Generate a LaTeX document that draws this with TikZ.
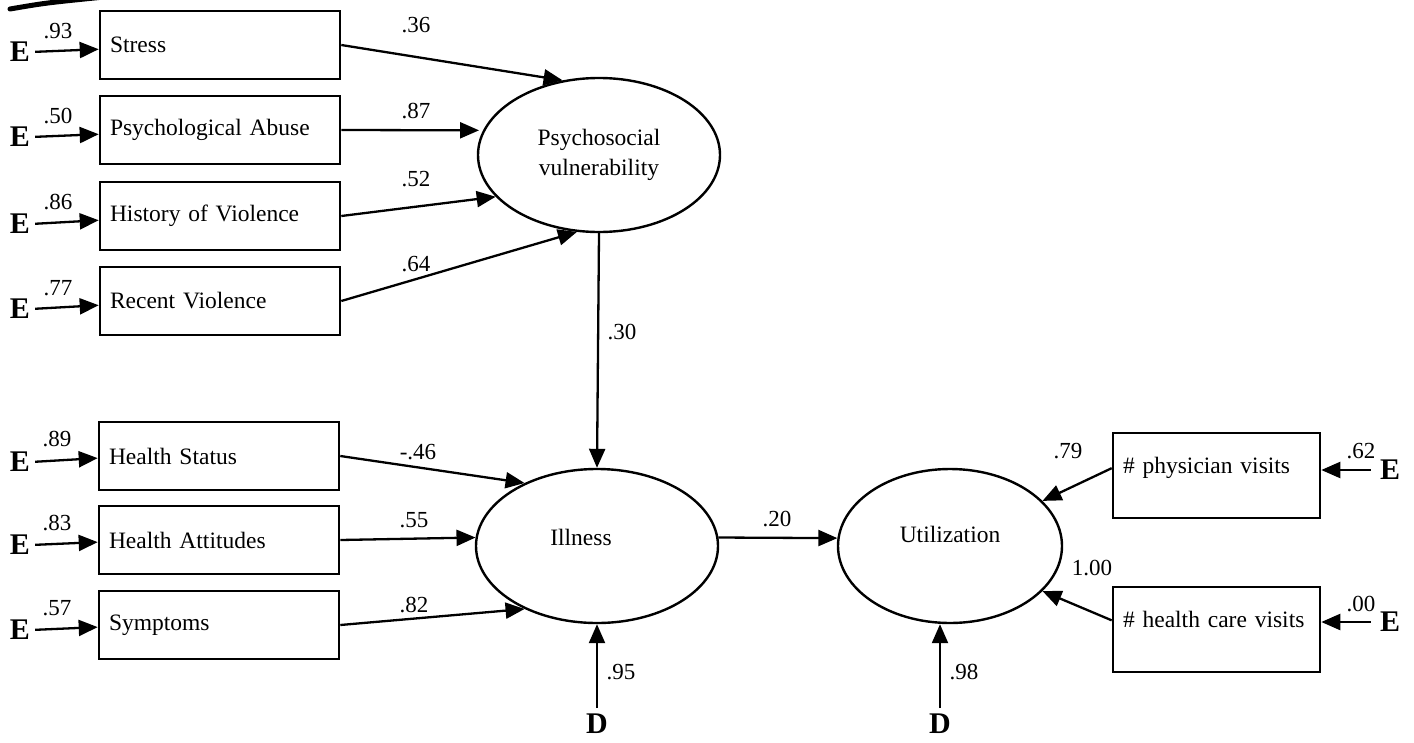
\documentclass[tikz,border=0pt]{standalone}
\usepackage{fontspec}
\setmainfont{Liberation Serif}
\usetikzlibrary{arrows.meta,shapes.geometric}
\begin{document}
\begin{tikzpicture}[x=1pt,y=-1pt,
  line width=2.3pt,
  every node/.style={font=\fontsize{23.5}{30}\selectfont},
  arr/.style={-{Triangle[length=19pt,width=16pt]}, line width=2.3pt},
  obs/.style={draw, rectangle, line width=2.6pt, minimum height=68pt,
    text width=220pt, inner xsep=10pt, align=left},
  robs/.style={draw, rectangle, line width=2.6pt, minimum height=85pt,
    text width=187pt, inner xsep=10pt, align=left, text depth=20pt},
  lat/.style={draw, ellipse, line width=2.4pt, minimum height=154pt,
    inner sep=0pt, align=center},
  err/.style={font=\fontsize{30}{30}\selectfont\bfseries, inner sep=0pt},
  coef/.style={inner sep=0pt, font=\fontsize{23}{23}\selectfont},
]
\useasboundingbox (0,0) rectangle (1414,742);

% stray printer's mark in the top left corner
\draw[line width=5pt, line cap=round] (10,9) .. controls (45,3) .. (104,-3);

% indicators of the psychosocial factor
\node[obs] (stress)  at (220,45)  {Stress};
\node[obs] (abuse)   at (220,130) {Psychological Abuse};
\node[obs] (history) at (220,216) {History of Violence};
\node[obs] (recent)  at (220,301) {Recent Violence};

% indicators of illness
\node[obs] (hstatus) at (219,456) {Health Status};
\node[obs] (hatt)    at (219,540) {Health Attitudes};
\node[obs] (symp)    at (219,625) {Symptoms};

% indicators of utilization
\node[robs] (phys) at (1216.5,475.5) {\# physician visits};
\node[robs] (hcare) at (1216.5,629.5) {\# health care visits};

% latent variables
\node[lat, minimum width=242pt] (psy) at (599,155) {Psychosocial\\vulnerability};
\node[lat, minimum width=242pt, text depth=17pt] (ill) at (597,546) {Illness\hspace*{32pt}};
\node[lat, minimum width=224pt, text depth=24pt] (util) at (950,546) {Utilization};

% error terms
\node[err] (e1) at (20,52)  {E};
\node[err] (e2) at (20,137) {E};
\node[err] (e3) at (20,224) {E};
\node[err] (e4) at (20,309) {E};
\node[err] (e5) at (20,462) {E};
\node[err] (e6) at (20,545) {E};
\node[err] (e7) at (20,630) {E};
\node[err] (e8) at (1390,470) {E};
\node[err] (e9) at (1390,622) {E};

% disturbances
\node[err] (d1) at (597,724) {D};
\node[err] (d2) at (940,724) {D};

% error paths
\draw[arr, shorten <=4pt] (e1.east) -- (stress.182);
\draw[arr, shorten <=4pt] (e2.east) -- (abuse.182);
\draw[arr, shorten <=4pt] (e3.east) -- (history.182);
\draw[arr, shorten <=4pt] (e4.east) -- (recent.182);
\draw[arr, shorten <=4pt] (e5.east) -- (hstatus.181);
\draw[arr, shorten <=4pt] (e6.east) -- (hatt.181);
\draw[arr, shorten <=4pt] (e7.east) -- (symp.181);
\draw[arr, shorten <=8pt] (e8.west) -- (e8.west -| phys.east);
\draw[arr, shorten <=8pt] (e9.west) -- (e9.west -| hcare.east);
\draw[arr, shorten <=5pt] (d1.north) -- (ill.south);
\draw[arr, shorten <=5pt] (d2.north) -- (d2.north |- util.south);

\node[coef] (le1) at (58,31)  {.93};
\node[coef] (le2) at (58,116) {.50};
\node[coef] (le3) at (58,202) {.86};
\node[coef] (le4) at (58,288) {.77};
\node[coef] (le5) at (57,439) {.89};
\node[coef] (le6) at (57,523) {.83};
\node[coef] (le7) at (57,608) {.57};
\node[coef] (le8) at (1361,451) {.62};
\node[coef] (le9) at (1361,604) {.00};
\node[coef] (ld1) at (621,672) {.95};
\node[coef] (ld2) at (964,672) {.98};

% loadings on psychosocial vulnerability
\draw[arr] (stress.east) -- (psy.116);
\draw[arr, shorten >=4pt] (abuse.east) -- (psy.168);
\draw[arr] (history.east) -- (psy.202);
\draw[arr] (recent.east) -- (psy.254);
\node[coef] (l1) at (416,25)  {.36};
\node[coef] (l2) at (416,111) {.87};
\node[coef] (l3) at (416,179) {.52};
\node[coef] (l4) at (416,264) {.64};

% loadings on illness
\draw[arr] (hstatus.east) -- (ill.139);
\draw[arr] (hatt.east) -- (ill.176);
\draw[arr] (symp.east) -- (ill.221);
\node[coef] (l5) at (418,452) {-.46};
\node[coef] (l6) at (414,520) {.55};
\node[coef] (l7) at (414,605) {.82};

% structural paths
\draw[arr] (psy.south) -- (ill.north);
\node[coef] (l8) at (622,332) {.30};
\draw[arr] (ill.4) -- (util.176);
\node[coef] (l9) at (777,519) {.20};

% loadings on utilization
\draw[arr] (phys.176) -- (util.26);
\draw[arr] (hcare.175) -- (util.-26);
\node[coef] (l10) at (1068,451) {.79};
\node[coef] (l11) at (1092,568) {1.00};
\end{tikzpicture}
\end{document}
